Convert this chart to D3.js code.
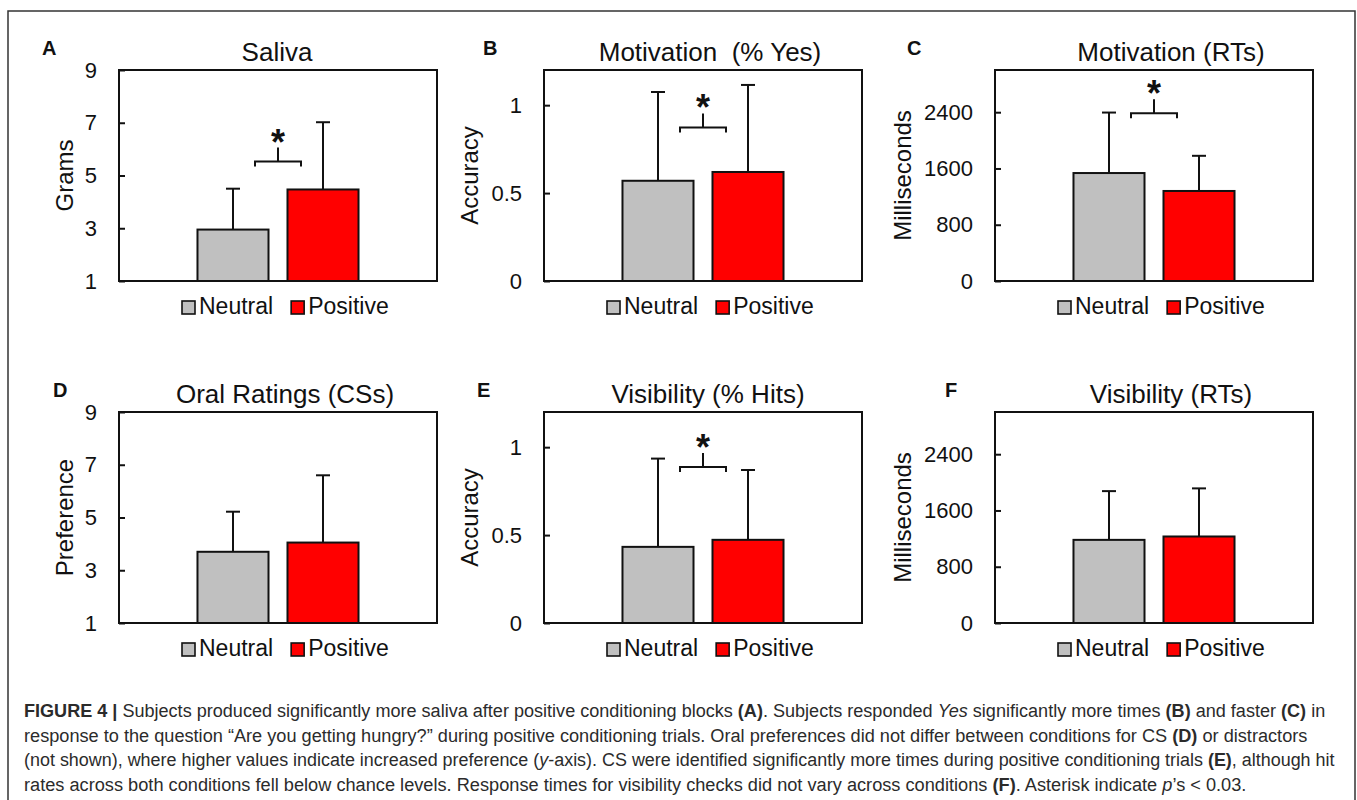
<!DOCTYPE html>
<html>
<head>
<meta charset="utf-8">
<script src="https://cdn.jsdelivr.net/npm/d3@7"></script>
<style>
  body { margin: 0; background: #fff; }
  text { white-space: pre; }
</style>
</head>
<body>
<script>
// panel data, one entry per panel A..F
const letters = ['A', 'B', 'C', 'D', 'E', 'F'];
const titles = ['Saliva', 'Motivation  (% Yes)', 'Motivation (RTs)', 'Oral Ratings (CSs)', 'Visibility (% Hits)', 'Visibility (RTs)'];
const yLabels = ['Grams', 'Accuracy', 'Milliseconds', 'Preference', 'Accuracy', 'Milliseconds'];
const categories = ['Neutral', 'Positive'];

const neutralMeans = [2.95, 0.57, 1535, 3.70, 0.433, 1182];
const positiveMeans = [4.47, 0.62, 1280, 4.05, 0.473, 1230];
const neutralErr = [1.55, 0.505, 860, 1.52, 0.502, 693];
const positiveErr = [2.55, 0.495, 500, 2.55, 0.397, 684];

const yDomains = [[1, 9], [0, 1.2], [0, 3000], [1, 9], [0, 1.2], [0, 3000]];
const yTicks = [[1, 3, 5, 7, 9], [0, 0.5, 1], [0, 800, 1600, 2400], [1, 3, 5, 7, 9], [0, 0.5, 1], [0, 800, 1600, 2400]];
// height of the significance bracket (null = no bracket)
const sigY = [5.53, 0.873, 2386, null, 0.887, null];

const colors = {Neutral: '#c0c0c0', Positive: '#ff0000'};

const captionLines = [
  [['b', 'FIGURE 4 |'], ['', ' Subjects produced significantly more saliva after positive conditioning blocks '], ['b', '(A)'], ['', '. Subjects responded '], ['i', 'Yes'], ['', ' significantly more times '], ['b', '(B)'], ['', ' and faster '], ['b', '(C)'], ['', ' in']],
  [['', 'response to the question \u201cAre you getting hungry?\u201d during positive conditioning trials. Oral preferences did not differ between conditions for CS '], ['b', '(D)'], ['', ' or distractors']],
  [['', '(not shown), where higher values indicate increased preference ('], ['i', 'y'], ['', '-axis). CS were identified significantly more times during positive conditioning trials '], ['b', '(E)'], ['', ', although hit']],
  [['', 'rates across both conditions fell below chance levels. Response times for visibility checks did not vary across conditions '], ['b', '(F)'], ['', '. Asterisk indicate '], ['i', 'p'], ['', '\u2019s < 0.03.']]
];
const captionEnds = [1326, 1308, 1335, 1247];

// layout
const colLeft = [119, 544, 995];
const rowTop = [70, 412];
const boxW = 318;
const boxH = 211;
const letterX = [42, 483, 907, 53, 477, 945];
const titleX = [277, 710, 1171, 285, 708, 1171];
const yLabelX = [64, 469, 902];
const font = '"Liberation Sans", Arial, sans-serif';

const svg = d3.select('body').append('svg')
  .attr('width', 1357)
  .attr('height', 800)
  .style('font-family', font);

// outer frame
svg.append('path')
  .attr('d', 'M8,800 V11 H1355 V800')
  .attr('fill', 'none')
  .attr('stroke', '#333')
  .attr('stroke-width', 1.5);

letters.forEach((letter, i) => {
  const col = i % 3;
  const row = Math.floor(i / 3);
  const left = colLeft[col];
  const top = rowTop[row];
  const g = svg.append('g');

  const y = d3.scaleLinear().domain(yDomains[i]).range([top + boxH, top]);
  const x = d3.scaleBand().domain(categories)
    .range([left, left + boxW])
    .paddingInner(0.211)
    .paddingOuter(0.872);

  const means = [neutralMeans[i], positiveMeans[i]];
  const errs = [neutralErr[i], positiveErr[i]];
  const base = yDomains[i][0];

  // error whiskers (upper only)
  categories.forEach((c, k) => {
    const cx = x(c) + x.bandwidth() / 2;
    g.append('line')
      .attr('x1', cx).attr('x2', cx)
      .attr('y1', y(means[k])).attr('y2', y(means[k] + errs[k]))
      .attr('stroke', '#111').attr('stroke-width', 2);
    g.append('line')
      .attr('x1', cx - 7).attr('x2', cx + 7)
      .attr('y1', y(means[k] + errs[k])).attr('y2', y(means[k] + errs[k]))
      .attr('stroke', '#111').attr('stroke-width', 2);
  });

  g.selectAll('rect.bar')
    .data(categories)
    .join('rect')
    .attr('class', 'bar')
    .attr('x', c => x(c))
    .attr('y', (c, k) => y(means[k]))
    .attr('width', x.bandwidth())
    .attr('height', (c, k) => y(base) - y(means[k]))
    .attr('fill', c => colors[c])
    .attr('stroke', '#111')
    .attr('stroke-width', 2);

  // y axis with inner ticks
  const axis = g.append('g')
    .attr('transform', `translate(${left},0)`)
    .call(d3.axisLeft(y).tickValues(yTicks[i]).tickSize(-6).tickPadding(22).tickFormat(d => String(d)));
  axis.select('.domain').remove();
  axis.selectAll('line').attr('stroke', '#111').attr('stroke-width', 2);
  axis.selectAll('text')
    .attr('font-size', 22)
    .attr('font-family', font)
    .attr('fill', '#111');

  // plot box
  g.append('rect')
    .attr('x', left).attr('y', top)
    .attr('width', boxW).attr('height', boxH)
    .attr('fill', 'none')
    .attr('stroke', '#111')
    .attr('stroke-width', 2);

  // significance bracket
  if (sigY[i] !== null) {
    const mid = (x('Neutral') + x('Positive') + x.bandwidth()) / 2;
    const by = y(sigY[i]);
    g.append('path')
      .attr('d', `M${mid - 23},${by + 5} V${by} H${mid + 23} V${by + 5} M${mid},${by} V${by - 14}`)
      .attr('fill', 'none')
      .attr('stroke', '#111')
      .attr('stroke-width', 2);
    g.append('text')
      .attr('x', mid)
      .attr('y', by - 14 - 13 + 20)
      .attr('text-anchor', 'middle')
      .attr('font-size', 36)
      .attr('font-weight', 'bold')
      .attr('fill', '#111')
      .text('*');
  }

  // title, panel letter, y label
  g.append('text')
    .attr('x', titleX[i]).attr('y', top - 9)
    .attr('text-anchor', 'middle')
    .attr('font-size', 26)
    .attr('fill', '#111')
    .text(titles[i]);

  g.append('text')
    .attr('x', letterX[i]).attr('y', top - 15)
    .attr('font-size', 20)
    .attr('font-weight', 'bold')
    .attr('fill', '#111')
    .text(letter);

  g.append('text')
    .attr('transform', `translate(${yLabelX[col]},${top + boxH / 2}) rotate(-90)`)
    .attr('text-anchor', 'middle')
    .attr('dominant-baseline', 'central')
    .attr('font-size', 24)
    .attr('fill', '#111')
    .text(yLabels[i]);

  // legend
  const ly = top + boxH + 33;
  let lx = left + 63;
  categories.forEach(c => {
    g.append('rect')
      .attr('x', lx).attr('y', ly - 13)
      .attr('width', 13).attr('height', 13)
      .attr('fill', colors[c])
      .attr('stroke', '#111')
      .attr('stroke-width', 1.6);
    const t = g.append('text')
      .attr('x', lx + 17).attr('y', ly)
      .attr('font-size', 23)
      .attr('fill', '#111')
      .text(c);
    lx += 17 + t.node().getComputedTextLength() + 18;
  });
});

// caption: each line squeezed horizontally to the reference width
captionLines.forEach((parts, li) => {
  const t = svg.append('text')
    .attr('x', 0)
    .attr('y', 0)
    .attr('font-family', '"Liberation Sans Narrow", "Arial Narrow", "Liberation Sans", sans-serif')
    .attr('font-size', 19)
    .attr('fill', '#2b2b2b');
  parts.forEach(([style, str]) => {
    t.append('tspan')
      .attr('font-weight', style === 'b' ? 'bold' : null)
      .attr('font-style', style === 'i' ? 'italic' : null)
      .text(str);
  });
  const natural = t.node().getComputedTextLength();
  const sx = (captionEnds[li] - 24) / natural;
  t.attr('transform', `translate(24,${717 + li * 24.5}) scale(${sx},1)`);
});
</script>
</body>
</html>
